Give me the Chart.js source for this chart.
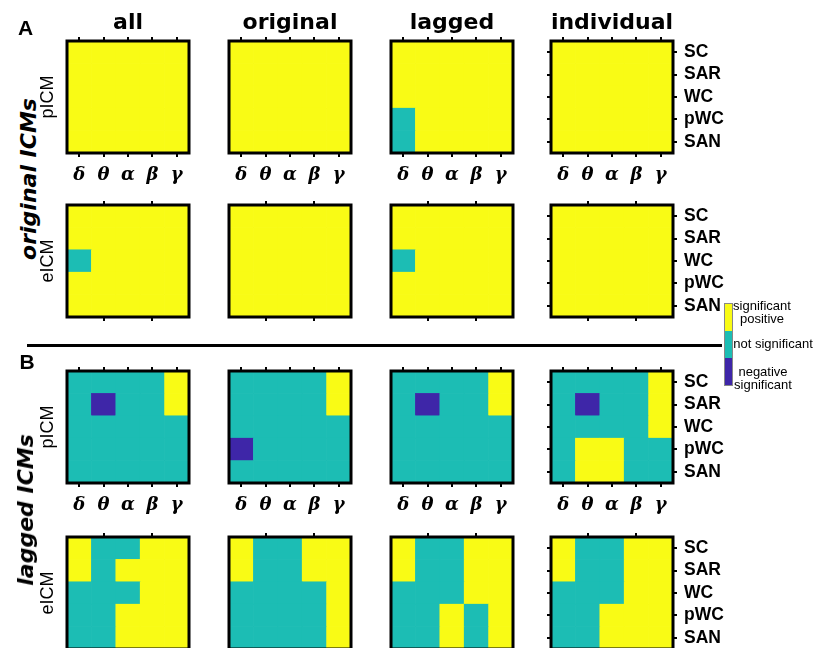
<!DOCTYPE html>
<html>
<head>
<meta charset="utf-8">
<script src="https://cdn.jsdelivr.net/npm/chart.js@4/dist/chart.umd.min.js"></script>
<style>
  html, body { margin: 0; padding: 0; background: #fff; }
  #fig { position: relative; width: 820px; height: 648px; overflow: hidden; background: #fff;
         font-family: "Liberation Sans", Arial, sans-serif; color: #000; }
  #fig canvas { position: absolute; }
  .t { position: absolute; white-space: nowrap; line-height: 1; }
  .ctr { transform: translate(-50%, 0); }
  .rot { transform: translate(-50%, -50%) rotate(-90deg); }
  .coltitle { font-family: "DejaVu Sans", sans-serif; font-weight: bold; font-size: 22px; }
  .panel { font-family: "Liberation Sans", Arial, sans-serif; font-weight: bold; font-size: 21px; }
  .group { font-family: "DejaVu Sans", sans-serif; font-weight: bold; font-style: oblique; font-size: 22px; }
  .icm { font-family: "Liberation Sans", Arial, sans-serif; font-size: 18px; }
  .cb { position: absolute; font-family: "Liberation Sans", Arial, sans-serif; font-size: 13px;
        line-height: 13px; text-align: center; white-space: nowrap; transform: translate(-50%, 0); }
</style>
</head>
<body>
<div id="fig"></div>
<script>
// Frequency bands (columns of every panel) and connectivity measures (rows, top to bottom)
const bands = ['δ', 'θ', 'α', 'β', 'γ'];
const measures = ['SC', 'SAR', 'WC', 'pWC', 'SAN'];
const variants = ['all', 'original', 'lagged', 'individual'];
const icmTypes = ['pICM', 'eICM'];
const groups = ['original ICMs', 'lagged ICMs'];
const panelLetters = ['A', 'B'];

// Significance codes: 1 = significant positive, 0 = not significant, -1 = negative significant
const levelColors = { '1': 'rgb(249,251,21)', '0': 'rgb(28,189,180)', '-1': 'rgb(62,38,168)' };
const levelNames = [['significant', 'positive'], ['not significant'], ['negative', 'significant']];

// original ICMs, pICM
const origP_all        = [[1,1,1,1,1],[1,1,1,1,1],[1,1,1,1,1],[1,1,1,1,1],[1,1,1,1,1]];
const origP_original   = [[1,1,1,1,1],[1,1,1,1,1],[1,1,1,1,1],[1,1,1,1,1],[1,1,1,1,1]];
const origP_lagged     = [[1,1,1,1,1],[1,1,1,1,1],[1,1,1,1,1],[0,1,1,1,1],[0,1,1,1,1]];
const origP_individual = [[1,1,1,1,1],[1,1,1,1,1],[1,1,1,1,1],[1,1,1,1,1],[1,1,1,1,1]];
// original ICMs, eICM
const origE_all        = [[1,1,1,1,1],[1,1,1,1,1],[0,1,1,1,1],[1,1,1,1,1],[1,1,1,1,1]];
const origE_original   = [[1,1,1,1,1],[1,1,1,1,1],[1,1,1,1,1],[1,1,1,1,1],[1,1,1,1,1]];
const origE_lagged     = [[1,1,1,1,1],[1,1,1,1,1],[0,1,1,1,1],[1,1,1,1,1],[1,1,1,1,1]];
const origE_individual = [[1,1,1,1,1],[1,1,1,1,1],[1,1,1,1,1],[1,1,1,1,1],[1,1,1,1,1]];
// lagged ICMs, pICM
const lagP_all         = [[0,0,0,0,1],[0,-1,0,0,1],[0,0,0,0,0],[0,0,0,0,0],[0,0,0,0,0]];
const lagP_original    = [[0,0,0,0,1],[0,0,0,0,1],[0,0,0,0,0],[-1,0,0,0,0],[0,0,0,0,0]];
const lagP_lagged      = [[0,0,0,0,1],[0,-1,0,0,1],[0,0,0,0,0],[0,0,0,0,0],[0,0,0,0,0]];
const lagP_individual  = [[0,0,0,0,1],[0,-1,0,0,1],[0,0,0,0,1],[0,1,1,0,0],[0,1,1,0,0]];
// lagged ICMs, eICM
const lagE_all         = [[1,0,0,1,1],[1,0,1,1,1],[0,0,0,1,1],[0,0,1,1,1],[0,0,1,1,1]];
const lagE_original    = [[1,0,0,1,1],[1,0,0,1,1],[0,0,0,0,1],[0,0,0,0,1],[0,0,0,0,1]];
const lagE_lagged      = [[1,0,0,1,1],[1,0,0,1,1],[0,0,0,1,1],[0,0,1,0,1],[0,0,1,0,1]];
const lagE_individual  = [[1,0,0,1,1],[1,0,0,1,1],[0,0,0,1,1],[0,0,1,1,1],[0,0,1,1,1]];

const panelRows = [
  [origP_all, origP_original, origP_lagged, origP_individual],
  [origE_all, origE_original, origE_lagged, origE_individual],
  [lagP_all,  lagP_original,  lagP_lagged,  lagP_individual],
  [lagE_all,  lagE_original,  lagE_lagged,  lagE_individual]
];

// Grid geometry (plot areas)
const areaLeft = [67, 229, 391, 551];
const areaTop = [41, 205, 371, 537];
const PW = 122, PH = 112;
const M = { l: 20, r: 70, t: 20, b: 45 };

const fig = document.getElementById('fig');

function addText(cls, text, x, y) {
  const d = document.createElement('div');
  d.className = 't ' + cls;
  d.textContent = text;
  d.style.left = x + 'px';
  d.style.top = y + 'px';
  fig.appendChild(d);
  return d;
}

// Black frame around each heatmap
const framePlugin = {
  id: 'frame',
  afterDatasetsDraw(chart) {
    const { ctx, chartArea: a } = chart;
    ctx.save();
    ctx.lineWidth = 3;
    ctx.strokeStyle = '#000';
    ctx.strokeRect(a.left, a.top, a.width, a.height);
    ctx.restore();
  }
};

const centreTicks = axis => { axis.ticks = measures.map((m, i) => ({ value: i + 0.5 })); };
const measureLabel = v => measures[measures.length - 1 - Math.floor(v)];

function makeHeatmap(r, c) {
  const matrix = panelRows[r][c];
  const canvas = document.createElement('canvas');
  canvas.width = M.l + PW + M.r;
  canvas.height = M.t + PH + M.b;
  canvas.style.left = (areaLeft[c] - M.l) + 'px';
  canvas.style.top = (areaTop[r] - M.t) + 'px';
  fig.appendChild(canvas);

  const showBands = (r % 2 === 0);
  const lastCol = (c === variants.length - 1);
  const xTickColor = ctx => (showBands || ctx.index % 2 === 1) ? '#000' : 'rgba(0,0,0,0)';

  // one stacked dataset per measure, bottom row (SAN) first
  const datasets = measures.slice().reverse().map(m => {
    const row = matrix[measures.indexOf(m)];
    return {
      label: m,
      data: bands.map(() => 1),
      backgroundColor: row.map(v => levelColors[String(v)]),
      borderWidth: 0,
      barPercentage: 1,
      categoryPercentage: 1
    };
  });

  const xGrid = { offset: false, drawOnChartArea: false, drawTicks: true, tickLength: 4, lineWidth: 2, color: xTickColor };
  const yGrid = { drawOnChartArea: false, drawTicks: true, tickLength: 4, lineWidth: 2,
                  color: lastCol ? '#000' : 'rgba(0,0,0,0)' };

  new Chart(canvas, {
    type: 'bar',
    data: { labels: bands, datasets },
    options: {
      responsive: false,
      animation: false,
      devicePixelRatio: 1,
      layout: { padding: 0 },
      plugins: { legend: { display: false }, tooltip: { enabled: false } },
      scales: {
        x: {
          type: 'category', position: 'bottom', stacked: true, offset: true,
          grid: xGrid, border: { display: false },
          ticks: { display: showBands, color: '#000', padding: 8,
                   font: { family: 'DejaVu Serif', weight: 'bold', style: 'italic', size: 18 } },
          afterFit: s => { s.height = M.b; }
        },
        xTop: {
          type: 'category', position: 'top', offset: true, labels: bands,
          grid: xGrid, border: { display: false },
          ticks: { display: false },
          afterFit: s => { s.height = M.t; }
        },
        y: {
          type: 'linear', position: 'left', stacked: true, min: 0, max: 5,
          grid: yGrid, border: { display: false },
          afterBuildTicks: centreTicks,
          ticks: { display: false },
          afterFit: s => { s.width = M.l; }
        },
        yRight: {
          type: 'linear', position: 'right', min: 0, max: 5,
          grid: yGrid, border: { display: false },
          afterBuildTicks: centreTicks,
          ticks: { display: lastCol, color: '#000', padding: 7, callback: measureLabel,
                   font: { family: 'Liberation Sans', weight: 'bold', size: 17.5 } },
          afterFit: s => { s.width = M.r; }
        }
      }
    },
    plugins: [framePlugin]
  });
}

for (let r = 0; r < panelRows.length; r++) {
  for (let c = 0; c < variants.length; c++) makeHeatmap(r, c);
}

// Column titles
variants.forEach((v, c) => addText('coltitle ctr', v, areaLeft[c] + PW / 2, 10.5));

// Panel letters
addText('panel', panelLetters[0], 18, 17);
addText('panel', panelLetters[1], 19.5, 351);

// Group labels, rotated
const groupX = [29, 26];
groups.forEach((g, i) => {
  const yc = (areaTop[2 * i] + areaTop[2 * i + 1] + PH) / 2;
  addText('group rot', g, groupX[i], yc);
});

// ICM type labels, rotated, one per heatmap row
for (let r = 0; r < 4; r++) {
  addText('icm rot', icmTypes[r % 2], 46.5, areaTop[r] + PH / 2);
}

// Separator between A and B
const sep = document.createElement('div');
sep.style.cssText = 'position:absolute;left:27px;top:343.5px;width:695px;height:3px;background:#000;';
fig.appendChild(sep);

// Colour key
const key = document.createElement('div');
key.style.cssText = 'position:absolute;left:724px;top:303px;width:7px;height:81px;border:1px solid #888;' +
  'display:flex;flex-direction:column;';
['1', '0', '-1'].forEach(k => {
  const s = document.createElement('div');
  s.style.cssText = 'flex:1;background:' + levelColors[k] + ';';
  key.appendChild(s);
});
fig.appendChild(key);

const keyLabelPos = [[762, 299], [773, 336.5], [763, 365]];
levelNames.forEach((lines, i) => {
  const d = document.createElement('div');
  d.className = 'cb';
  d.innerHTML = lines.join('<br>');
  d.style.left = keyLabelPos[i][0] + 'px';
  d.style.top = keyLabelPos[i][1] + 'px';
  fig.appendChild(d);
});
</script>
</body>
</html>
